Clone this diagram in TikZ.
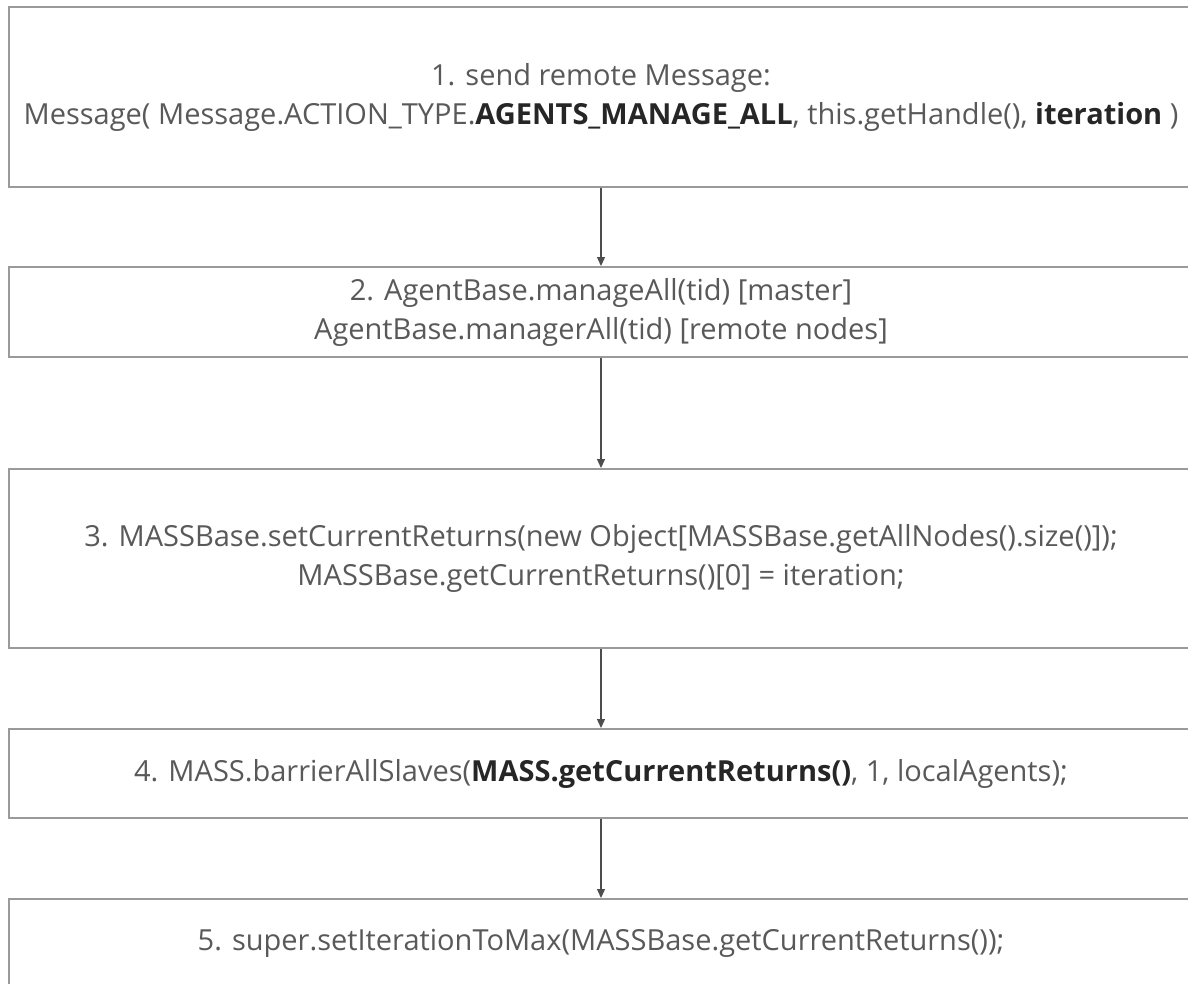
\documentclass[tikz,border=0pt]{standalone}
\usepackage{fontspec}
\setmainfont{Open Sans}
\usetikzlibrary{arrows.meta}
\definecolor{txt}{HTML}{595959}
\definecolor{bld}{HTML}{262626}
\definecolor{edge}{HTML}{9A9A9A}
\definecolor{wire}{HTML}{4D4D4D}
\newcommand{\hi}[1]{\textcolor{bld}{\textbf{#1}}}
\begin{document}
\begin{tikzpicture}[x=1pt,y=-1pt,
  stepbox/.style={draw=edge,line width=2pt,fill=white,inner sep=0pt,
    minimum width=1185pt,text=txt,font=\fontsize{29}{39}\selectfont,
    align=center},
  flow/.style={draw=wire,line width=1.3pt,-{Triangle[length=9pt,width=8pt]}}]
\useasboundingbox (0,0) rectangle (1188,983);
\clip (0,0) rectangle (1188,983);
\fill[white] (0,0) rectangle (1188,983);

% step boxes with their texts
\node[stepbox,minimum height=180pt] (b1) at (601,97)
  {1. send remote Message:\\
   Message( Message.ACTION\_TYPE.\hi{AGENTS\_MANAGE\_ALL}, this.getHandle(), \hi{iteration} )};
\node[stepbox,minimum height=90pt]  (b2) at (601,312)
  {2. AgentBase.manageAll(tid) [master]\\
   AgentBase.managerAll(tid) [remote nodes]};
\node[stepbox,minimum height=179pt] (b3) at (601,558.5)
  {3. MASSBase.setCurrentReturns(new Object[MASSBase.getAllNodes().size()]);\\
   MASSBase.getCurrentReturns()[0] = iteration;};
\node[stepbox,minimum height=89pt]  (b4) at (601,773.5)
  {4. MASS.barrierAllSlaves(\hi{MASS.getCurrentReturns()}, 1, localAgents);};
\node[stepbox,minimum height=89pt]  (b5) at (601,943.5)
  {5. super.setIterationToMax(MASSBase.getCurrentReturns());};

% connectors
\draw[flow] (b1.south) -- (b2.north);
\draw[flow] (b2.south) -- (b3.north);
\draw[flow] (b3.south) -- (b4.north);
\draw[flow] (b4.south) -- (b5.north);
\end{tikzpicture}
\end{document}
